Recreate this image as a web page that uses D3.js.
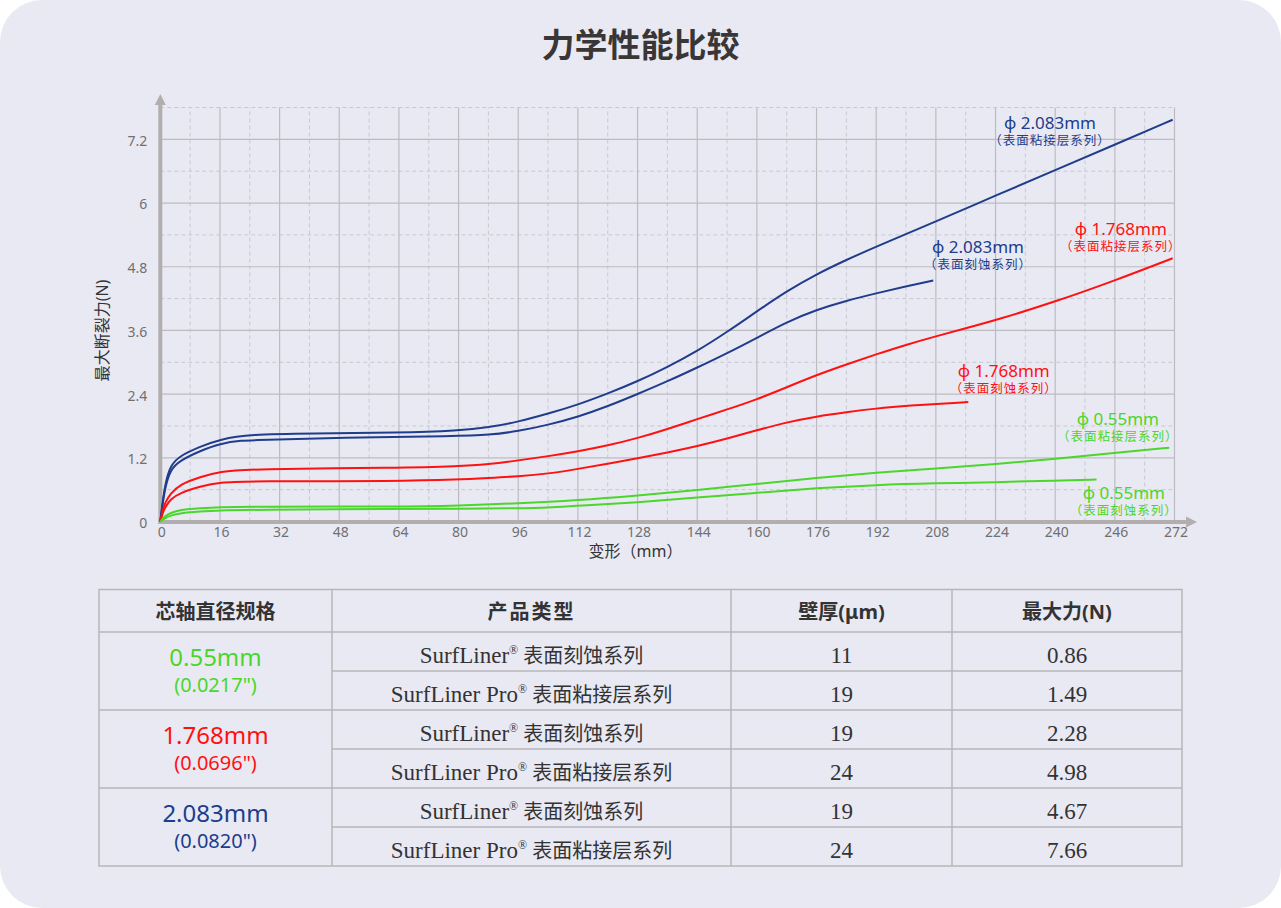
<!DOCTYPE html>
<html lang="zh">
<head>
<meta charset="UTF-8">
<title>力学性能比较</title>
<script src="https://cdn.jsdelivr.net/npm/d3@7"></script>
<style>
  body { margin: 0; background: #ffffff; }
  svg { display: block; }
  .sans { font-family: "Noto Sans", "Noto Sans CJK SC", sans-serif; }
  .serif { font-family: "Liberation Serif", "Times New Roman", serif; }
</style>
</head>
<body>
<svg id="chart" width="1281" height="908"></svg>
<script>
// ---- axis ticks ----
const xTicks = [0, 16, 32, 48, 64, 80, 96, 112, 128, 144, 160, 176, 192, 208, 224, 240, 256, 272];
const xTickLabels = ["0", "16", "32", "48", "64", "80", "96", "112", "128", "144", "160", "176", "192", "208", "224", "240", "246", "272"];
const yTicks = [0, 1.2, 2.4, 3.6, 4.8, 6, 7.2];
const yTickLabels = ["0", "1.2", "2.4", "3.6", "4.8", "6", "7.2"];

// ---- curves (deformation mm, force N) ----
const blueProX = [0, 0.6, 1.3, 2.7, 5.3, 10.7, 16, 24, 40, 64, 80, 88, 96, 104, 112, 120, 128, 136, 144, 152, 160, 168, 176, 184, 192, 208, 224, 240, 256, 271.5];
const blueProY = [0, 0.35, 0.7, 1.06, 1.24, 1.41, 1.55, 1.64, 1.66, 1.67, 1.71, 1.77, 1.88, 2.03, 2.2, 2.41, 2.64, 2.91, 3.21, 3.57, 3.96, 4.34, 4.66, 4.93, 5.18, 5.65, 6.14, 6.62, 7.10, 7.57];
const blueEtchX = [0, 0.6, 1.3, 2.7, 5.3, 10.7, 16, 22, 26, 48, 80, 88, 96, 104, 112, 120, 128, 136, 144, 152, 160, 168, 176, 184, 192, 200, 207.3];
const blueEtchY = [0, 0.32, 0.64, 0.98, 1.15, 1.33, 1.47, 1.53, 1.53, 1.58, 1.61, 1.63, 1.7, 1.82, 1.97, 2.17, 2.4, 2.64, 2.9, 3.17, 3.46, 3.76, 3.99, 4.16, 4.3, 4.43, 4.54];
const redProX = [0, 0.6, 1.3, 2.7, 5.3, 10.7, 16, 24, 64, 80, 88, 96, 104, 112, 120, 128, 136, 144, 152, 160, 168, 176, 184, 192, 200, 208, 216, 224, 240, 256, 271.5];
const redProY = [0, 0.2, 0.36, 0.52, 0.7, 0.84, 0.94, 0.99, 1.01, 1.04, 1.08, 1.15, 1.23, 1.32, 1.43, 1.57, 1.74, 1.93, 2.11, 2.3, 2.53, 2.76, 2.96, 3.15, 3.33, 3.49, 3.64, 3.79, 4.14, 4.54, 4.96];
const redEtchX = [0, 0.6, 1.3, 2.7, 5.3, 10.7, 16, 24, 64, 80, 88, 96, 104, 112, 120, 128, 136, 144, 152, 160, 168, 176, 184, 192, 200, 216.7];
const redEtchY = [0, 0.15, 0.27, 0.42, 0.54, 0.66, 0.74, 0.76, 0.76, 0.79, 0.82, 0.85, 0.9, 0.99, 1.09, 1.19, 1.3, 1.42, 1.56, 1.72, 1.87, 1.98, 2.06, 2.13, 2.18, 2.25];
const greenProX = [0, 0.6, 1.3, 2.7, 5.3, 10.7, 16, 24, 64, 80, 96, 112, 128, 144, 160, 176, 192, 208, 224, 240, 256, 270.6];
const greenProY = [0, 0.05, 0.1, 0.16, 0.22, 0.25, 0.27, 0.28, 0.28, 0.30, 0.34, 0.40, 0.49, 0.59, 0.71, 0.82, 0.92, 1.0, 1.08, 1.18, 1.29, 1.39];
const greenEtchX = [0, 0.6, 1.3, 2.7, 5.3, 10.7, 16, 24, 64, 80, 96, 104, 112, 128, 144, 160, 176, 192, 208, 224, 240, 251.1];
const greenEtchY = [0, 0.03, 0.06, 0.11, 0.16, 0.19, 0.21, 0.22, 0.24, 0.24, 0.25, 0.26, 0.30, 0.36, 0.45, 0.54, 0.63, 0.69, 0.72, 0.74, 0.77, 0.79];

const seriesLabels = ["ϕ 2.083mm", "ϕ 2.083mm", "ϕ 1.768mm", "ϕ 1.768mm", "ϕ 0.55mm", "ϕ 0.55mm"];
const seriesSubLabels = ["（表面粘接层系列）", "（表面刻蚀系列）", "（表面粘接层系列）", "（表面刻蚀系列）", "（表面粘接层系列）", "（表面刻蚀系列）"];
// label anchor in data units (x, y)
const labelAtX = [238.6, 219.3, 257.6, 226.2, 256.8, 258.4];
const labelAtY = [7.39, 5.06, 5.40, 2.72, 1.82, 0.42];

// ---- table ----
const diameters = ["0.55mm", "1.768mm", "2.083mm"];
const diameterInches = ['(0.0217")', '(0.0696")', '(0.0820")'];
const productNames = ["SurfLiner", "SurfLiner Pro", "SurfLiner", "SurfLiner Pro", "SurfLiner", "SurfLiner Pro"];
const productSeries = ["表面刻蚀系列", "表面粘接层系列", "表面刻蚀系列", "表面粘接层系列", "表面刻蚀系列", "表面粘接层系列"];
const wallThickness = ["11", "19", "19", "24", "19", "24"];
const maxForce = ["0.86", "1.49", "2.28", "4.98", "4.67", "7.66"];
const headers = ["芯轴直径规格", "产品类型", "壁厚(μm)", "最大力(N)"];

const BLUE = "#203d8c", RED = "#ff1111", GREEN = "#4bd62c";
const seriesColors = [BLUE, BLUE, RED, RED, GREEN, GREEN];
const diameterColors = [GREEN, RED, BLUE];

const svg = d3.select("#chart");

// card background
svg.append("rect")
    .attr("width", 1281).attr("height", 908)
    .attr("rx", 42).attr("ry", 42)
    .attr("fill", "#e9e9f3");

svg.append("text")
    .attr("class", "sans")
    .attr("x", 640.5).attr("y", 57)
    .attr("text-anchor", "middle")
    .attr("font-size", 33).attr("font-weight", "bold")
    .attr("fill", "#3b3636")
    .text("力学性能比较");

const x = d3.scaleLinear().domain([0, 272]).range([160.3, 1174.5]);
const y = d3.scaleLinear().domain([0, 7.8]).range([521.5, 107.5]);

// grid
const grid = svg.append("g");
const minorX = d3.range(8, 272, 16);
const minorY = d3.range(0.6, 7.81, 1.2);

grid.selectAll(".vminor").data(minorX).enter().append("line")
    .attr("x1", d => x(d)).attr("x2", d => x(d))
    .attr("y1", y(0)).attr("y2", y(7.8))
    .attr("stroke", "#c8c8d0").attr("stroke-dasharray", "4 3");
grid.selectAll(".hminor").data(minorY).enter().append("line")
    .attr("x1", x(0)).attr("x2", x(272))
    .attr("y1", d => y(d)).attr("y2", d => y(d))
    .attr("stroke", "#c8c8d0").attr("stroke-dasharray", "4 3");
grid.selectAll(".vmajor").data(xTicks.slice(1)).enter().append("line")
    .attr("x1", d => x(d)).attr("x2", d => x(d))
    .attr("y1", y(0)).attr("y2", y(7.8))
    .attr("stroke", "#bcbcc0").attr("stroke-width", 1.2);
grid.selectAll(".hmajor").data(yTicks.slice(1)).enter().append("line")
    .attr("x1", x(0)).attr("x2", x(272))
    .attr("y1", d => y(d)).attr("y2", d => y(d))
    .attr("stroke", "#bcbcc0").attr("stroke-width", 1.2);

// axes lines with arrows
const axisColor = "#b3aeae";
svg.append("line")
    .attr("x1", x(0)).attr("x2", x(0))
    .attr("y1", y(0) + 2.5).attr("y2", 104)
    .attr("stroke", axisColor).attr("stroke-width", 4);
svg.append("path")
    .attr("d", `M${x(0) - 5.5},105 L${x(0)},94 L${x(0) + 5.5},105 Z`)
    .attr("fill", axisColor);
svg.append("line")
    .attr("x1", x(0) - 2).attr("x2", 1187)
    .attr("y1", y(0) + 0.5).attr("y2", y(0) + 0.5)
    .attr("stroke", axisColor).attr("stroke-width", 4);
svg.append("path")
    .attr("d", `M1186,${y(0) - 5} L1197,${y(0) + 0.5} L1186,${y(0) + 6} Z`)
    .attr("fill", axisColor);

// tick labels via d3 axes
const xAxis = d3.axisBottom(x).tickValues(xTicks)
    .tickFormat((d, i) => xTickLabels[i]).tickSize(0).tickPadding(6);
const gx = svg.append("g").attr("transform", `translate(0,${y(0)})`).call(xAxis);
gx.select(".domain").remove();
gx.selectAll("text").attr("class", "sans").attr("font-size", 14).attr("fill", "#707070")
    .attr("font-family", null).attr("dx", 1);

const yAxis = d3.axisLeft(y).tickValues(yTicks)
    .tickFormat((d, i) => yTickLabels[i]).tickSize(0).tickPadding(13);
const gy = svg.append("g").attr("transform", `translate(${x(0)},0)`).call(yAxis);
gy.select(".domain").remove();
gy.selectAll("text").attr("class", "sans").attr("font-size", 14).attr("fill", "#707070")
    .attr("font-family", null).attr("dy", "0.42em");

// axis titles
svg.append("text")
    .attr("class", "sans")
    .attr("x", 635.5).attr("y", 557)
    .attr("text-anchor", "middle").attr("font-size", 16).attr("fill", "#333")
    .text("变形（mm）");
svg.append("text")
    .attr("class", "sans")
    .attr("transform", "translate(108,330.5) rotate(-90)")
    .attr("text-anchor", "middle").attr("font-size", 16).attr("fill", "#333")
    .text("最大断裂力(N)");

// curves
const seriesX = [blueProX, blueEtchX, redProX, redEtchX, greenProX, greenEtchX];
const seriesY = [blueProY, blueEtchY, redProY, redEtchY, greenProY, greenEtchY];
const line = d3.line()
    .x(d => x(d[0])).y(d => y(d[1]))
    .curve(d3.curveBasis);

seriesX.forEach((xs, i) => {
    const pts = xs.map((v, j) => [v, seriesY[i][j]]);
    svg.append("path")
        .attr("d", line(pts))
        .attr("fill", "none")
        .attr("stroke", seriesColors[i])
        .attr("stroke-width", 2)
        .attr("stroke-linejoin", "round");
});

// curve labels
seriesLabels.forEach((lab, i) => {
    const g = svg.append("g").attr("class", "sans").attr("fill", seriesColors[i]);
    g.append("text")
        .attr("x", x(labelAtX[i])).attr("y", y(labelAtY[i]))
        .attr("text-anchor", "middle").attr("font-size", 17)
        .text(lab);
    g.append("text")
        .attr("x", x(labelAtX[i])).attr("y", y(labelAtY[i]) + 16)
        .attr("text-anchor", "middle").attr("font-size", 12.5)
        .attr("letter-spacing", 1)
        .text(seriesSubLabels[i]);
});

// ---- table ----
const colX = [99, 332, 731, 952, 1182];
const tableTop = 589.5, headerH = 42.5, rowH = 39;
const rowTop = i => tableTop + headerH + i * rowH;
const tableBottom = rowTop(6);
const colMid = i => (colX[i] + colX[i + 1]) / 2;
const table = svg.append("g");
const borderColor = "#b6b6ba";

// outer frame + header line + group lines
table.append("rect")
    .attr("x", colX[0]).attr("y", tableTop)
    .attr("width", colX[4] - colX[0]).attr("height", tableBottom - tableTop)
    .attr("fill", "none").attr("stroke", borderColor).attr("stroke-width", 1.5);
[rowTop(0), rowTop(2), rowTop(4)].forEach(yy => {
    table.append("line").attr("x1", colX[0]).attr("x2", colX[4])
        .attr("y1", yy).attr("y2", yy)
        .attr("stroke", borderColor).attr("stroke-width", 1.5);
});
[rowTop(1), rowTop(3), rowTop(5)].forEach(yy => {
    table.append("line").attr("x1", colX[1]).attr("x2", colX[4])
        .attr("y1", yy).attr("y2", yy)
        .attr("stroke", borderColor).attr("stroke-width", 1.5);
});
colX.slice(1, 4).forEach(xx => {
    table.append("line").attr("x1", xx).attr("x2", xx)
        .attr("y1", tableTop).attr("y2", tableBottom)
        .attr("stroke", borderColor).attr("stroke-width", 1.5);
});

headers.forEach((h, i) => {
    table.append("text")
        .attr("class", "sans")
        .attr("x", colMid(i)).attr("y", tableTop + 29)
        .attr("text-anchor", "middle").attr("font-size", 20)
        .attr("font-weight", "bold").attr("fill", "#333")
        .attr("letter-spacing", i === 1 ? 2 : 0)
        .text(h);
});

diameters.forEach((d, i) => {
    const top = rowTop(i * 2);
    table.append("text")
        .attr("class", "sans")
        .attr("x", colMid(0)).attr("y", top + 34)
        .attr("text-anchor", "middle").attr("font-size", 24)
        .attr("fill", diameterColors[i])
        .text(d);
    table.append("text")
        .attr("class", "sans")
        .attr("x", colMid(0)).attr("y", top + 59.5)
        .attr("text-anchor", "middle").attr("font-size", 20)
        .attr("fill", diameterColors[i])
        .text(diameterInches[i]);
});

productNames.forEach((p, i) => {
    const base = rowTop(i) + 31;
    const t = table.append("text")
        .attr("x", colMid(1)).attr("y", base)
        .attr("text-anchor", "middle").attr("fill", "#333");
    t.append("tspan").attr("class", "serif").attr("font-size", 23).text(p);
    t.append("tspan").attr("class", "serif").attr("font-size", 12).attr("dy", -9).text("®");
    t.append("tspan").attr("class", "sans").attr("font-size", 20).attr("dy", 9).text(" " + productSeries[i]);

    table.append("text")
        .attr("class", "serif")
        .attr("x", colMid(2)).attr("y", base)
        .attr("text-anchor", "middle").attr("font-size", 23).attr("fill", "#333")
        .text(wallThickness[i]);
    table.append("text")
        .attr("class", "serif")
        .attr("x", colMid(3)).attr("y", base)
        .attr("text-anchor", "middle").attr("font-size", 23).attr("fill", "#333")
        .text(maxForce[i]);
});
</script>
</body>
</html>
